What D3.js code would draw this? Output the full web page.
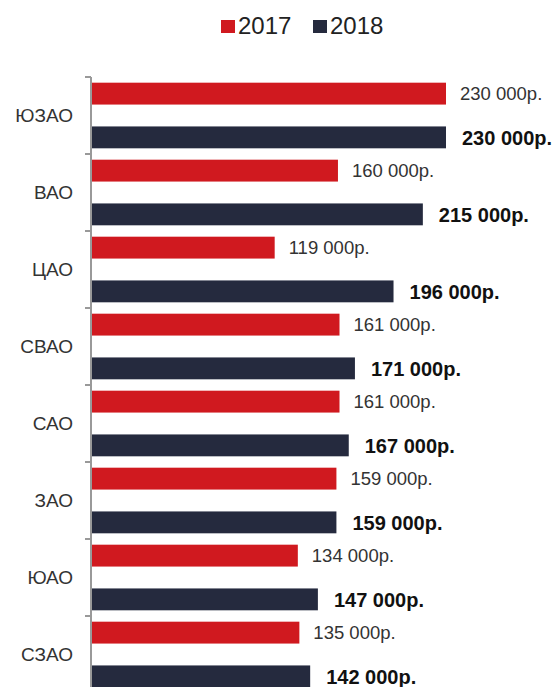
<!DOCTYPE html>
<html>
<head>
<meta charset="utf-8">
<script src="https://cdn.jsdelivr.net/npm/d3@7"></script>
<style>
  body { margin: 0; background: #fff; }
  svg { display: block; font-family: "Liberation Sans", Arial, sans-serif; }
</style>
</head>
<body>
<svg id="chart" width="552" height="687"></svg>
<script>
var districts = ["ЮЗАО", "ВАО", "ЦАО", "СВАО", "САО", "ЗАО", "ЮАО", "СЗАО"];
var years = ["2017", "2018"];
var values2017 = [230000, 160000, 119000, 161000, 161000, 159000, 134000, 135000];
var values2018 = [230000, 215000, 196000, 171000, 167000, 159000, 147000, 142000];
var colors = ["#d0191f", "#252a3e"];

var rows = districts.map(function(d, i) {
  return { name: d, vals: [values2017[i], values2018[i]] };
});

var svg = d3.select("#chart");
var fmt = function(v) { return d3.format(",")(v).replace(/,/g, " ") + "р."; };

var x = d3.scaleLinear().domain([0, 230000]).range([91, 446]);
var y0 = d3.scaleBand().domain(districts).range([77, 77 + 77 * 8]);
var y1 = d3.scaleBand().domain(years).range([0, y0.bandwidth()])
    .paddingInner(0.5).paddingOuter(0.13);

// legend
var legend = svg.append("g").attr("class", "legend");
var lx = [221, 313];
years.forEach(function(yr, i) {
  legend.append("rect")
      .attr("x", lx[i]).attr("y", 20)
      .attr("width", 14).attr("height", 13)
      .attr("fill", colors[i]);
  legend.append("text")
      .attr("x", lx[i] + 17).attr("y", 34)
      .attr("font-size", "24px")
      .attr("fill", "#222")
      .text(yr);
});

// bars
var groups = svg.append("g").selectAll("g")
    .data(rows)
  .enter().append("g")
    .attr("transform", function(d) { return "translate(0," + y0(d.name) + ")"; });

groups.selectAll("rect")
    .data(function(d) { return d.vals; })
  .enter().append("rect")
    .attr("x", x(0))
    .attr("y", function(d, i) { return y1(years[i]); })
    .attr("width", function(d) { return x(d) - x(0); })
    .attr("height", y1.bandwidth())
    .attr("fill", function(d, i) { return colors[i]; });

groups.selectAll("text")
    .data(function(d) { return d.vals; })
  .enter().append("text")
    .attr("x", function(d, i) { return x(d) + (i ? 16 : 14); })
    .attr("y", function(d, i) { return y1(years[i]) + y1.bandwidth() / 2; })
    .attr("dy", "0.36em")
    .attr("font-size", function(d, i) { return i ? "20px" : "18.5px"; })
    .attr("font-weight", function(d, i) { return i ? "bold" : "normal"; })
    .attr("fill", function(d, i) { return i ? "#111" : "#333"; })
    .text(fmt);

// axis
var axis = svg.append("g").attr("transform", "translate(" + x(0) + ",0)");
axis.call(d3.axisLeft(y0).tickSize(0).tickPadding(18));
axis.select(".domain").remove();
axis.selectAll("text").attr("font-size", "19px").attr("fill", "#333")
    .attr("font-family", "Liberation Sans, Arial, sans-serif");

var bounds = districts.map(function(d) { return y0(d); });
axis.selectAll(".bound")
    .data(bounds)
  .enter().append("line")
    .attr("class", "bound")
    .attr("x1", -6).attr("x2", 0)
    .attr("y1", function(d) { return d; })
    .attr("y2", function(d) { return d; })
    .attr("stroke", "#999").attr("stroke-width", 2);
axis.append("line")
    .attr("x1", 0).attr("x2", 0)
    .attr("y1", y0.range()[0]).attr("y2", y0.range()[1])
    .attr("stroke", "#999").attr("stroke-width", 2);
</script>
</body>
</html>
